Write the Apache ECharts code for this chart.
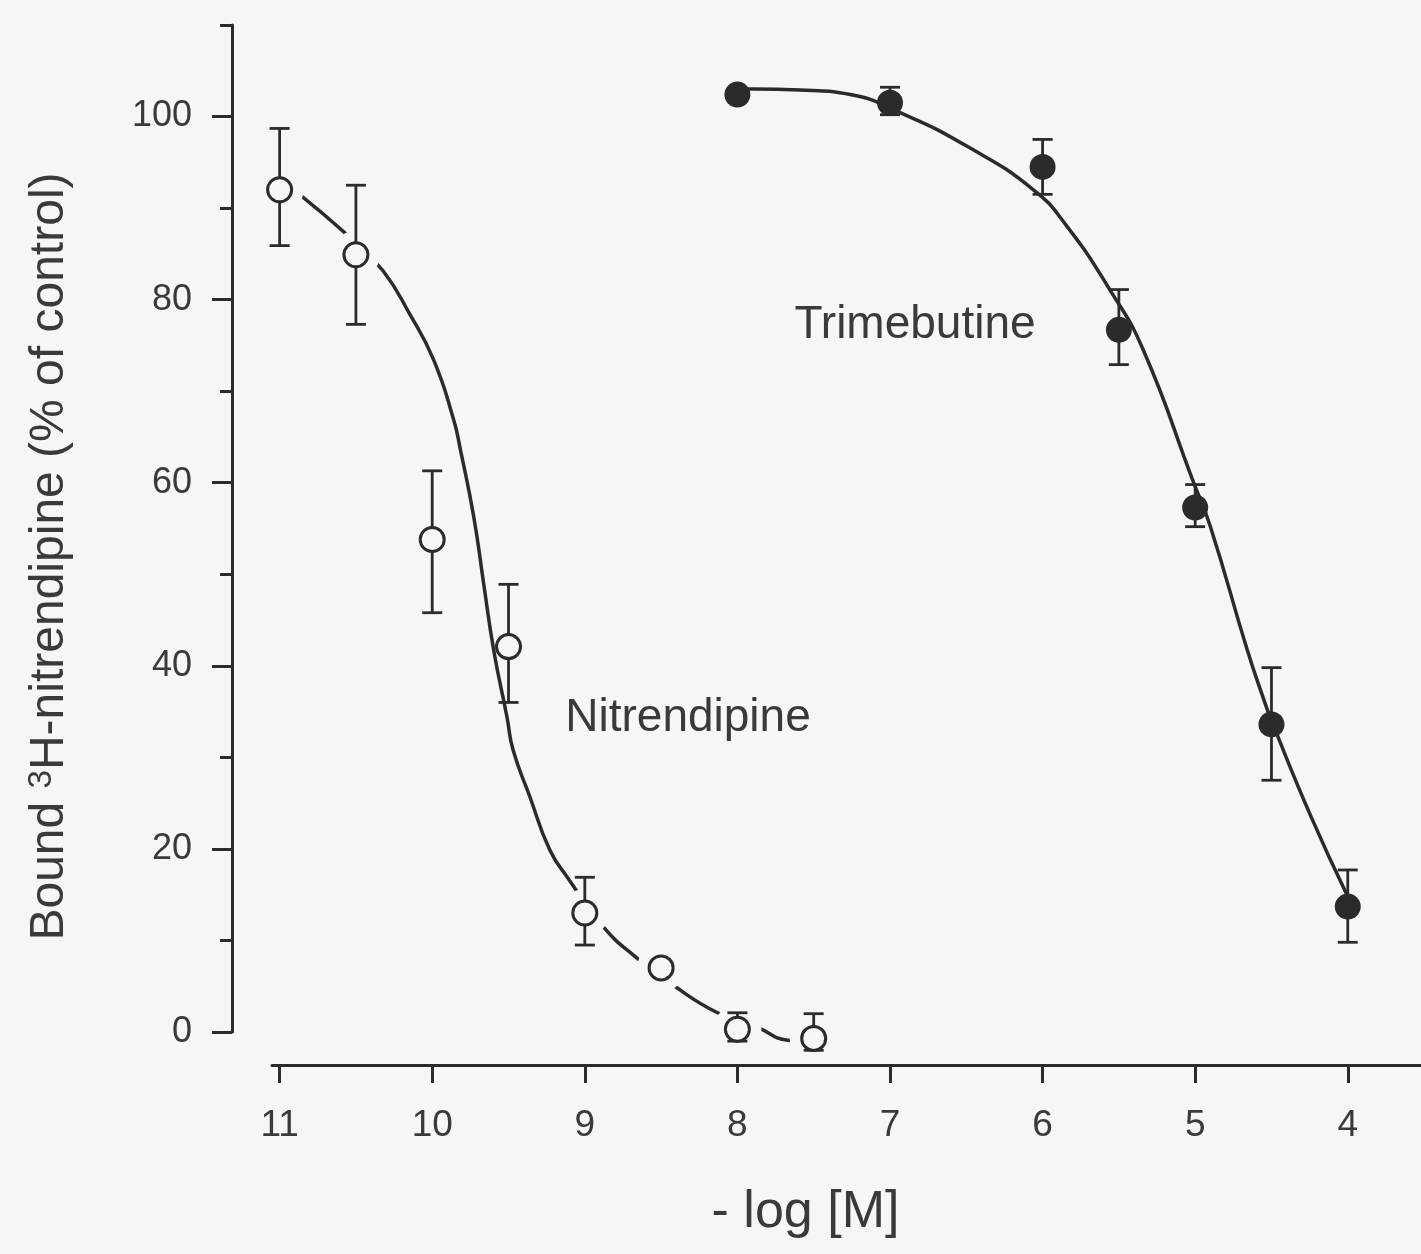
<!DOCTYPE html>
<html>
<head>
<meta charset="utf-8">
<title>Displacement of 3H-nitrendipine binding</title>
<script src="https://cdn.jsdelivr.net/npm/echarts@6/dist/echarts.min.js"></script>
<style>
  html, body { margin: 0; padding: 0; background: #f6f5f7; }
  #chart { width: 1421px; height: 1254px; }
</style>
</head>
<body>
<div id="chart"></div>
<script>
// Axis ticks
const xTicks = [11, 10, 9, 8, 7, 6, 5, 4];
const yTicks = [0, 20, 40, 60, 80, 100];
const yMinorTicks = [10, 30, 50, 70, 90, 110];

// Nitrendipine: mean and error-bar limits at each -log[M]
const nitX = [11, 10.5, 10, 9.5, 9, 8.5, 8, 7.5];
const nitY = [92.0, 84.9, 53.8, 42.1, 13.0, 7.0, 0.3, -0.7];
const nitLow = [85.9, 77.3, 45.8, 36.0, 9.5, null, -1.0, -2.0];
const nitHigh = [98.7, 92.5, 61.3, 48.9, 16.9, null, 2.1, 2.0];

// Nitrendipine fitted curve
const nitCurveX = [11.0, 10.84, 10.58, 10.47, 10.32, 10.15, 9.99, 9.86, 9.815, 9.728, 9.663, 9.597, 9.51, 9.47, 9.36, 9.23, 9.11, 8.88, 8.66, 8.42, 8.13, 7.87, 7.67, 7.55];
const nitCurveY = [93.0, 91.1, 87.4, 85.5, 83.1, 78.5, 73.4, 66.9, 63.6, 56.3, 49.0, 41.7, 34.4, 30.8, 25.7, 19.9, 16.8, 11.5, 8.1, 5.1, 2.1, 0.5, -0.9, -1.0];

// Trimebutine: mean and error-bar limits
const triX = [8, 7, 6, 5.5, 5, 4.5, 4];
const triY = [102.4, 101.5, 94.5, 76.7, 57.3, 33.6, 13.7];
const triLow = [null, 100.2, 91.5, 72.9, 55.2, 27.5, 9.8];
const triHigh = [null, 103.2, 97.5, 81.1, 59.8, 39.8, 17.7];

// Trimebutine fitted curve
const triCurveX = [8.0, 7.89, 7.59, 7.26, 6.93, 6.50, 6.06, 5.84, 5.56, 5.34, 5.01, 4.90, 4.66, 4.55, 4.49, 4.24, 4.0];
const triCurveY = [103.0, 103.0, 102.9, 102.4, 100.4, 96.8, 92.0, 88.0, 81.1, 74.5, 60.0, 55.2, 41.8, 36.3, 33.6, 23.5, 14.8];

const BG = '#f6f5f7';
const INK = '#2b2b2b';
const TEXT = '#3a3a3a';
const FONT = '"Liberation Sans", Arial, Helvetica, sans-serif';

const pairs = (xs, ys) => xs.map((x, i) => [x, ys[i]]);
const bars = (xs, lo, hi) => xs.map((x, i) => [x, lo[i], hi[i]]).filter(d => d[1] != null);

function errorBar(params, api) {
  const x = api.value(0);
  const top = api.coord([x, api.value(2)]);
  const bot = api.coord([x, api.value(1)]);
  const w = 10;
  const style = { stroke: INK, lineWidth: 2.8 };
  return {
    type: 'group',
    children: [
      { type: 'line', shape: { x1: top[0], y1: top[1], x2: bot[0], y2: bot[1] }, style },
      { type: 'line', shape: { x1: top[0] - w, y1: top[1], x2: top[0] + w, y2: top[1] }, style },
      { type: 'line', shape: { x1: bot[0] - w, y1: bot[1], x2: bot[0] + w, y2: bot[1] }, style }
    ]
  };
}

const chart = echarts.init(document.getElementById('chart'), null, { renderer: 'canvas' });

chart.setOption({
  backgroundColor: BG,
  animation: false,
  textStyle: { fontFamily: FONT },
  grid: { left: 272, right: 0, top: 25, bottom: 222, containLabel: false },
  xAxis: {
    type: 'value',
    inverse: true,
    min: 3.52,
    max: 11.05,
    offset: 33,
    axisLine: { show: true, onZero: false, lineStyle: { color: INK, width: 3 } },
    axisTick: { show: true, customValues: xTicks, length: 18, lineStyle: { color: INK, width: 3 } },
    axisLabel: { customValues: xTicks, margin: 42, fontSize: 37, color: TEXT, fontFamily: FONT },
    splitLine: { show: false },
    name: '- log [M]',
    nameLocation: 'middle',
    nameGap: 122,
    nameTextStyle: { fontSize: 52, color: TEXT, fontFamily: FONT, padding: [0, 82, 0, 0] }
  },
  yAxis: [
    {
      type: 'value',
      min: 0,
      max: 110,
      offset: 40,
      position: 'left',
      axisLine: { show: true, onZero: false, lineStyle: { color: INK, width: 3 } },
      axisTick: { show: true, customValues: yTicks, length: 20, lineStyle: { color: INK, width: 3 } },
      axisLabel: { customValues: yTicks, margin: 40, fontSize: 36, color: TEXT, fontFamily: FONT },
      splitLine: { show: false },
      name: 'Bound {sup|3}H-nitrendipine (% of control)',
      nameLocation: 'middle',
      nameGap: 158,
      nameTextStyle: {
        fontSize: 48, color: TEXT, fontFamily: FONT, padding: [0, 56, 0, 0],
        rich: {
          sup: { fontSize: 33, color: TEXT, fontFamily: FONT, verticalAlign: 'top', padding: [0, 0, 16, 0] }
        }
      }
    },
    {
      type: 'value',
      min: 0,
      max: 110,
      offset: 40,
      position: 'left',
      axisLine: { show: false },
      axisTick: { show: true, customValues: yMinorTicks, length: 12, lineStyle: { color: INK, width: 3 } },
      axisLabel: { show: false },
      splitLine: { show: false }
    }
  ],
  series: [
    {
      name: 'Nitrendipine fit',
      type: 'line',
      data: pairs(nitCurveX, nitCurveY),
      smooth: 0.5,
      showSymbol: false,
      clip: false,
      lineStyle: { color: INK, width: 3.5 },
      z: 1,
      silent: true
    },
    {
      name: 'Trimebutine fit',
      type: 'line',
      data: pairs(triCurveX, triCurveY),
      smooth: 0.5,
      showSymbol: false,
      clip: false,
      lineStyle: { color: INK, width: 3.5 },
      z: 1,
      silent: true
    },
    {
      // clear space around the open circles so the curve breaks at each point
      name: 'gap',
      type: 'scatter',
      data: pairs(nitX, nitY),
      symbol: 'circle',
      symbolSize: (v, p) => (p.dataIndex === 2 || p.dataIndex === 3) ? 0 : 48,
      itemStyle: { color: BG, opacity: 1 },
      clip: false,
      z: 2,
      silent: true
    },
    {
      name: 'Nitrendipine SEM',
      type: 'custom',
      renderItem: errorBar,
      data: bars(nitX, nitLow, nitHigh),
      encode: { x: 0, y: [1, 2] },
      clip: false,
      z: 3,
      silent: true
    },
    {
      name: 'Trimebutine SEM',
      type: 'custom',
      renderItem: errorBar,
      data: bars(triX, triLow, triHigh),
      encode: { x: 0, y: [1, 2] },
      clip: false,
      z: 3,
      silent: true
    },
    {
      name: 'Nitrendipine',
      type: 'scatter',
      data: pairs(nitX, nitY),
      symbol: 'circle',
      symbolSize: 24,
      itemStyle: { color: BG, borderColor: INK, borderWidth: 3, opacity: 1 },
      clip: false,
      z: 4
    },
    {
      name: 'Trimebutine',
      type: 'scatter',
      data: pairs(triX, triY),
      symbol: 'circle',
      symbolSize: 26,
      itemStyle: { color: INK, opacity: 1 },
      clip: false,
      z: 4
    }
  ],
  graphic: [
    {
      type: 'text', x: 915, y: 325,
      style: { text: 'Trimebutine', fill: TEXT, font: '46px ' + FONT, textAlign: 'center', textVerticalAlign: 'middle' }
    },
    {
      type: 'text', x: 688, y: 718,
      style: { text: 'Nitrendipine', fill: TEXT, font: '46px ' + FONT, textAlign: 'center', textVerticalAlign: 'middle' }
    }
  ]
});
</script>
</body>
</html>
